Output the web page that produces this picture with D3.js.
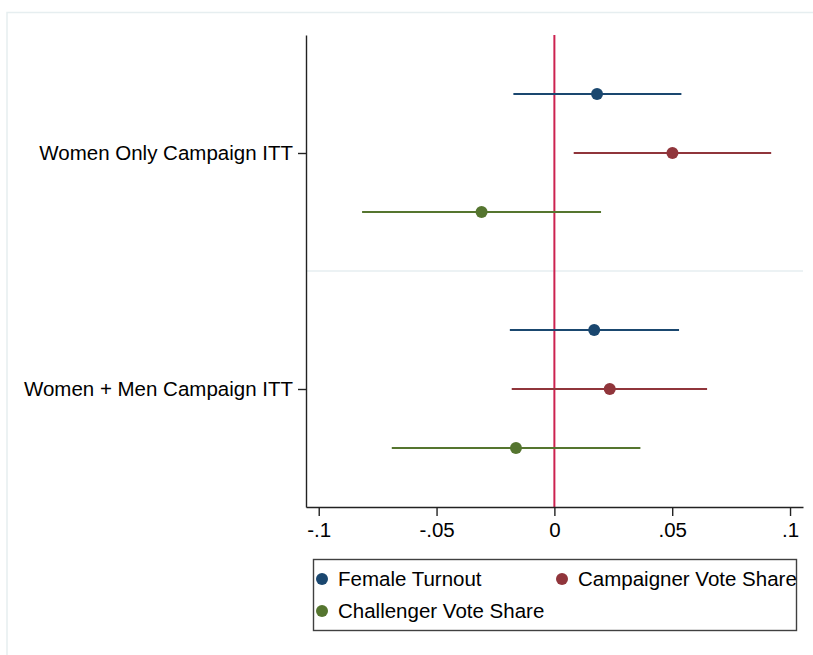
<!DOCTYPE html>
<html>
<head>
<meta charset="utf-8">
<script src="https://cdn.jsdelivr.net/npm/d3@7"></script>
<style>
  body { margin: 0; background: #fff; }
  svg { display: block; font-family: "Liberation Sans", Arial, sans-serif; }
</style>
</head>
<body>
<div id="chart"></div>
<script>
// groups on the y axis, series within each group
const groups = ["Women Only Campaign ITT", "Women + Men Campaign ITT"];
const seriesNames = ["Female Turnout", "Campaigner Vote Share", "Challenger Vote Share"];
const seriesColors = ["#1a476f", "#90353b", "#55752f"];

// point estimates and 95% CI bounds, [group][series]
const estimates = [[0.0181, 0.0501, -0.0309], [0.0169, 0.0235, -0.0163]];
const lowerCI = [[-0.0174, 0.0082, -0.0816], [-0.0189, -0.0181, -0.0690]];
const upperCI = [[0.0539, 0.0920, 0.0198], [0.0529, 0.0648, 0.0365]];

const xTickValues = [-0.1, -0.05, 0, 0.05, 0.1];
const xTickLabels = ["-.1", "-.05", "0", ".05", ".1"];

const width = 813, height = 655;
const margin = { top: 35, right: 10, bottom: 148, left: 306 };

const svg = d3.select("#chart")
  .append("svg")
  .attr("width", width)
  .attr("height", height);

// outer frame
svg.append("rect")
  .attr("x", 7).attr("y", 12.5)
  .attr("width", width + 20).attr("height", height)
  .attr("fill", "none")
  .attr("stroke", "#e6eef0")
  .attr("stroke-width", 1.5);

const xScale = d3.scaleLinear()
  .domain([-0.1054, 0.1055])
  .range([margin.left, width - margin.right]);

// rows: 0 = top edge, 8 = bottom edge; separator at 4
const yScale = d3.scaleLinear()
  .domain([0, 8])
  .range([margin.top, height - margin.bottom]);

const rowOf = (g, s) => 1 + g * 4 + s;

// separator between groups
svg.append("line")
  .attr("x1", xScale.range()[0]).attr("x2", xScale.range()[1])
  .attr("y1", yScale(4)).attr("y2", yScale(4))
  .attr("stroke", "#e6eef0")
  .attr("stroke-width", 1.5);

// zero line
svg.append("line")
  .attr("x1", xScale(0)).attr("x2", xScale(0))
  .attr("y1", yScale(0)).attr("y2", yScale(8))
  .attr("stroke", "#cc2250")
  .attr("stroke-width", 2);

// flatten data for drawing
const rows = [];
groups.forEach((g, gi) => {
  seriesNames.forEach((s, si) => {
    rows.push({
      group: gi, series: si,
      est: estimates[gi][si], lo: lowerCI[gi][si], hi: upperCI[gi][si]
    });
  });
});

// CI lines
svg.append("g")
  .selectAll("line")
  .data(rows)
  .enter()
  .append("line")
  .attr("x1", d => xScale(d.lo))
  .attr("x2", d => xScale(d.hi))
  .attr("y1", d => yScale(rowOf(d.group, d.series)))
  .attr("y2", d => yScale(rowOf(d.group, d.series)))
  .attr("stroke", d => seriesColors[d.series])
  .attr("stroke-width", 2);

// point estimates
svg.append("g")
  .selectAll("circle")
  .data(rows)
  .enter()
  .append("circle")
  .attr("cx", d => xScale(d.est))
  .attr("cy", d => yScale(rowOf(d.group, d.series)))
  .attr("r", 6)
  .attr("fill", d => seriesColors[d.series]);

// x axis
const xAxis = svg.append("g")
  .attr("transform", `translate(0,${yScale(8)})`)
  .call(d3.axisBottom(xScale)
    .tickValues(xTickValues)
    .tickFormat((d, i) => xTickLabels[i])
    .tickSize(9)
    .tickSizeOuter(0)
    .tickPadding(6));
xAxis.selectAll("text")
  .attr("font-size", "20.5px")
  .attr("fill", "#000")
  .attr("font-family", "Liberation Sans, Arial, sans-serif");

// y axis
const yAxis = svg.append("g")
  .attr("transform", `translate(${margin.left},0)`)
  .call(d3.axisLeft(yScale)
    .tickValues([2, 6])
    .tickFormat((d, i) => groups[i])
    .tickSize(8)
    .tickSizeOuter(0)
    .tickPadding(5));
yAxis.selectAll("text")
  .attr("font-size", "20.5px")
  .attr("fill", "#000")
  .attr("font-family", "Liberation Sans, Arial, sans-serif");

[xAxis, yAxis].forEach(ax => {
  ax.select(".domain").attr("stroke", "#222").attr("stroke-width", 1.4);
  ax.selectAll(".tick line").attr("stroke", "#222").attr("stroke-width", 1.4);
});

// legend
const legend = svg.append("g");
legend.append("rect")
  .attr("x", 313.5).attr("y", 559.5)
  .attr("width", 483).attr("height", 71)
  .attr("fill", "#fff")
  .attr("stroke", "#404040")
  .attr("stroke-width", 1.4);

const legendPos = [
  { x: 322, y: 579 },
  { x: 562, y: 579 },
  { x: 322, y: 611 }
];

const items = legend.selectAll(".item")
  .data(seriesNames)
  .enter()
  .append("g")
  .attr("transform", (d, i) => `translate(${legendPos[i].x},${legendPos[i].y})`);

items.append("circle")
  .attr("r", 6)
  .attr("fill", (d, i) => seriesColors[i]);

items.append("text")
  .attr("x", 16)
  .attr("dy", "0.36em")
  .attr("font-size", "20.5px")
  .attr("fill", "#000")
  .text(d => d);
</script>
</body>
</html>
